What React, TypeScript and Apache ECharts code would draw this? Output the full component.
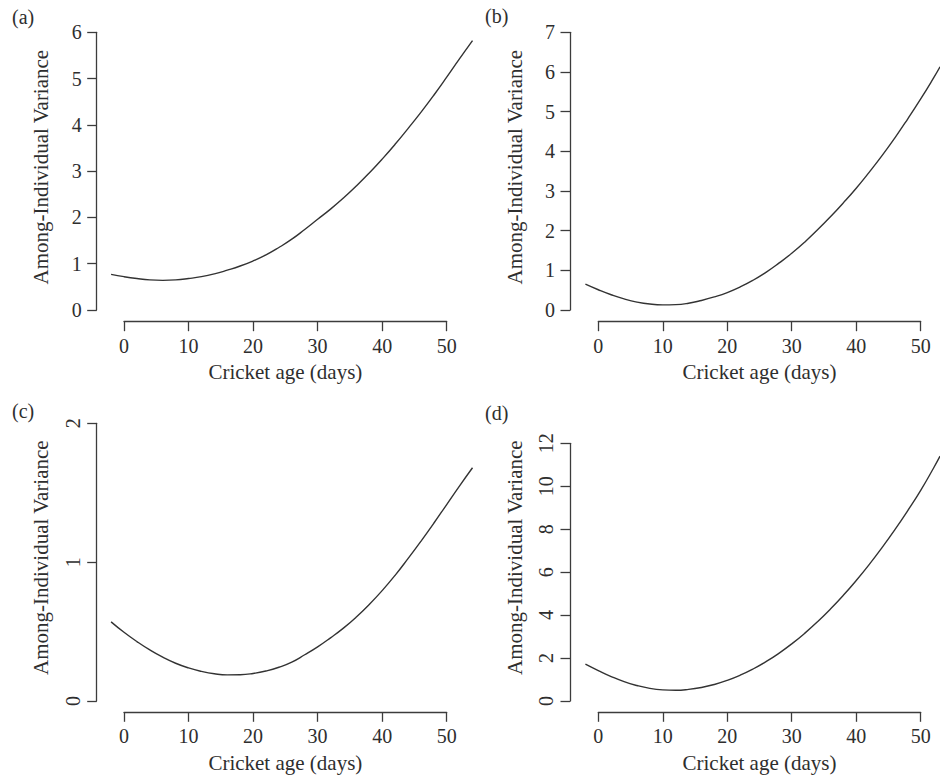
import React, { useEffect, useRef } from "react";
import * as echarts from "echarts";

// Cricket age (days) at which the curves were read
const agesAC = [-2, 0, 2, 4, 6, 8, 10, 12, 14, 16, 18, 20, 22, 24, 26, 28, 30, 32, 34, 36, 38, 40, 42, 44, 46, 48, 50, 52, 54];
const agesBD = [-2, 0, 2, 4, 6, 8, 10, 12, 14, 16, 18, 20, 22, 24, 26, 28, 30, 32, 34, 36, 38, 40, 42, 44, 46, 48, 50, 52, 53];

// Among-individual variance, panels (a)-(d)
const varA = [0.77, 0.72, 0.68, 0.65, 0.64, 0.65, 0.68, 0.72, 0.78, 0.86, 0.95, 1.06, 1.19, 1.35, 1.53, 1.74, 1.96, 2.18, 2.42, 2.68, 2.96, 3.26, 3.58, 3.92, 4.27, 4.64, 5.03, 5.43, 5.82];
const varB = [0.65, 0.51, 0.385, 0.28, 0.2, 0.15, 0.13, 0.135, 0.17, 0.24, 0.33, 0.44, 0.58, 0.75, 0.95, 1.18, 1.43, 1.71, 2.02, 2.35, 2.7, 3.07, 3.47, 3.89, 4.34, 4.82, 5.32, 5.85, 6.13];
const varC = [0.57, 0.495, 0.428, 0.368, 0.316, 0.272, 0.238, 0.213, 0.196, 0.188, 0.189, 0.198, 0.216, 0.243, 0.28, 0.333, 0.39, 0.455, 0.525, 0.605, 0.695, 0.795, 0.905, 1.025, 1.15, 1.28, 1.415, 1.55, 1.68];
const varD = [1.72, 1.42, 1.14, 0.9, 0.72, 0.59, 0.52, 0.5, 0.54, 0.63, 0.77, 0.96, 1.2, 1.49, 1.83, 2.22, 2.66, 3.15, 3.69, 4.28, 4.92, 5.61, 6.35, 7.14, 7.98, 8.87, 9.81, 10.85, 11.4];

const panelLabels = ["(a)", "(b)", "(c)", "(d)"];
const xTitle = "Cricket age (days)";
const yTitle = "Among-Individual Variance";
const xTicks = { min: 0, max: 50, interval: 10 };
const yTicks = [
  { min: 0, max: 6, interval: 1 },
  { min: 0, max: 7, interval: 1 },
  { min: 0, max: 2, interval: 1 },
  { min: 0, max: 12, interval: 2 },
];

const FONT = "Liberation Serif";
const AXIS_COLOR = "#3c3c3c";
const TEXT_COLOR = "#2e2e2e";

// layout (pixels): tick-span boxes of each panel (R-style detached axes)
const layout = [
  { x0: 124, x1: 446.7, xAxisY: 321.7, yAxisX: 96.7, yTop: 32.3, yZero: 310, right: 476 },
  { x0: 598.3, x1: 920.7, xAxisY: 321.7, yAxisX: 570, yTop: 32.3, yZero: 310, right: 940 },
  { x0: 124, x1: 446.7, xAxisY: 712.3, yAxisX: 96.7, yTop: 423.3, yZero: 701, right: 476 },
  { x0: 598.3, x1: 920.7, xAxisY: 712.3, yAxisX: 570, yTop: 443.3, yZero: 701, right: 940 },
];
const yRotated = [false, false, true, true];
const yTitleShift = [8, 8, 9, 29];
const labelPos = [
  { left: 12, top: 7 },
  { left: 485, top: 6 },
  { left: 12, top: 401 },
  { left: 485, top: 403 },
];

export default function App() {
  const ref = useRef<HTMLDivElement>(null);
  useEffect(() => {
    document.body.style.margin = "0";
    const chart = echarts.init(ref.current!, null, { renderer: "svg" });
    const series = [
      { ages: agesAC, vals: varA },
      { ages: agesBD, vals: varB },
      { ages: agesAC, vals: varC },
      { ages: agesBD, vals: varD },
    ];
    const lineStyle = { color: AXIS_COLOR, width: 1.3 };
    const grid: any[] = [];
    const xAxis: any[] = [];
    const yAxis: any[] = [];
    const seriesOpt: any[] = [];
    const hidden = (gridIndex: number) => ({ type: "value", gridIndex, show: false, min: 0, max: 1 });

    layout.forEach((L, i) => {
      const yt = yTicks[i];
      const sx = (L.x1 - L.x0) / (xTicks.max - xTicks.min);
      const sy = (L.yZero - L.yTop) / (yt.max - yt.min);
      // data grid (plot region)
      const dTop = L.yTop - 25;
      const dBottom = L.yZero + 10;
      const gData = grid.length;
      grid.push({ left: L.yAxisX, top: dTop, width: L.right - L.yAxisX, height: dBottom - dTop });
      xAxis.push({
        type: "value",
        gridIndex: gData,
        show: false,
        min: xTicks.min - (L.x0 - L.yAxisX) / sx,
        max: xTicks.max + (L.right - L.x1) / sx,
      });
      yAxis.push({
        type: "value",
        gridIndex: gData,
        show: false,
        min: yt.min - (dBottom - L.yZero) / sy,
        max: yt.max + (L.yTop - dTop) / sy,
      });
      seriesOpt.push({
        type: "line",
        xAxisIndex: gData,
        yAxisIndex: gData,
        data: series[i].ages.map((a, j) => [a, series[i].vals[j]]),
        showSymbol: false,
        smooth: true,
        lineStyle: { color: "#333333", width: 1.4 },
      });

      // x axis grid
      const gX = grid.length;
      grid.push({ left: L.x0, top: L.xAxisY - 1, width: L.x1 - L.x0, height: 1 });
      xAxis.push({
        type: "value",
        gridIndex: gX,
        min: xTicks.min,
        max: xTicks.max,
        interval: xTicks.interval,
        position: "bottom",
        axisLine: { show: true, onZero: false, lineStyle },
        axisTick: { show: true, length: 9.5, lineStyle },
        axisLabel: { margin: 14, fontSize: 20, color: TEXT_COLOR, fontFamily: FONT },
        splitLine: { show: false },
        name: xTitle,
        nameLocation: "middle",
        nameGap: 40,
        nameTextStyle: { fontSize: 21, color: TEXT_COLOR, fontFamily: FONT },
      });
      yAxis.push(hidden(gX));

      // y axis grid
      const gY = grid.length;
      grid.push({ left: L.yAxisX, top: L.yTop, width: 1, height: L.yZero - L.yTop });
      xAxis.push(hidden(gY));
      yAxis.push({
        type: "value",
        gridIndex: gY,
        min: yt.min,
        max: yt.max,
        interval: yt.interval,
        position: "left",
        axisLine: { show: true, onZero: false, lineStyle },
        axisTick: { show: true, length: 9.5, lineStyle },
        axisLabel: {
          margin: yRotated[i] ? 14 : 15,
          rotate: yRotated[i] ? 90 : 0,
          fontSize: 20,
          color: TEXT_COLOR,
          fontFamily: FONT,
        },
        splitLine: { show: false },
        name: yTitle,
        nameLocation: "middle",
        nameGap: 45,
        nameTextStyle: {
          fontSize: 21,
          color: TEXT_COLOR,
          fontFamily: FONT,
          padding: [0, 0, 0, yTitleShift[i]],
        },
      });
    });

    const option: any = {
      animation: false,
      backgroundColor: "#ffffff",
      title: panelLabels.map((t, i) => ({
        text: t,
        left: labelPos[i].left,
        top: labelPos[i].top,
        padding: 0,
        textStyle: { fontFamily: FONT, fontSize: 20, fontWeight: "normal", color: TEXT_COLOR },
      })),
      grid,
      xAxis,
      yAxis,
      series: seriesOpt,
    };
    chart.setOption(option);
    return () => chart.dispose();
  }, []);
  return <div ref={ref} style={{ width: 940, height: 775 }} />;
}
